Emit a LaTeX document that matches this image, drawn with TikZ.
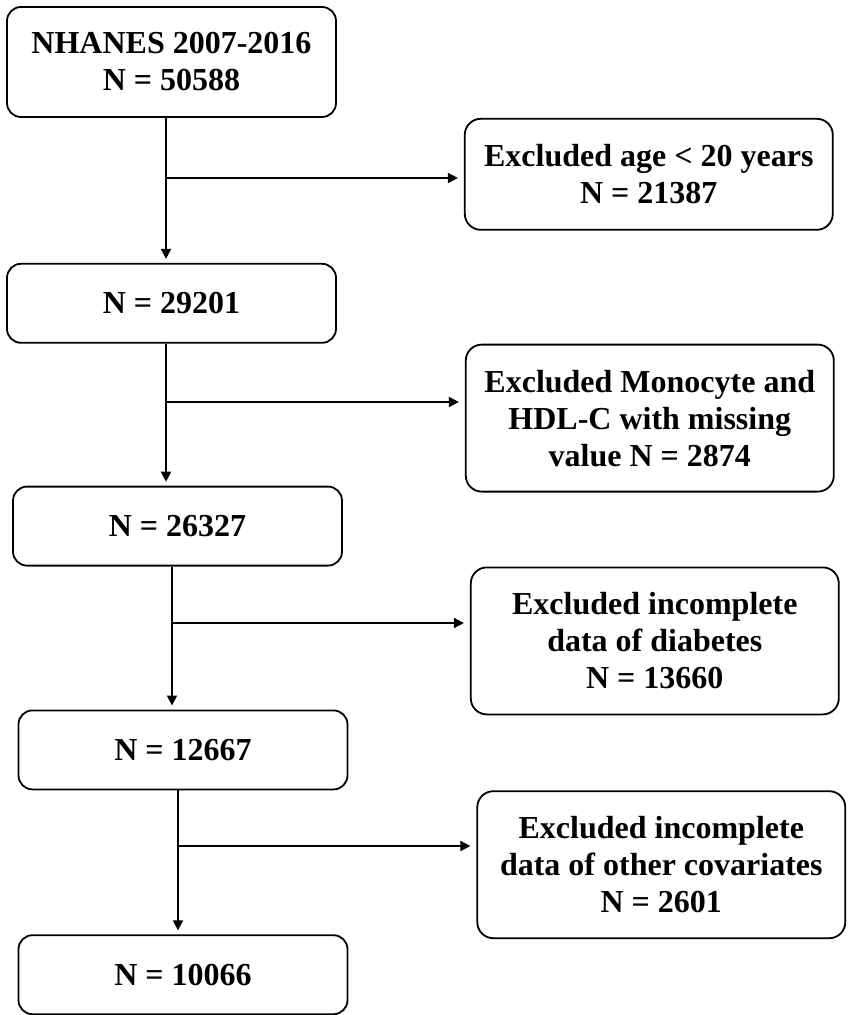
\documentclass[tikz,border=0pt]{standalone}
\usepackage{fontspec}
\setmainfont{Liberation Serif}
\usepackage{tikz}
\usetikzlibrary{arrows.meta, positioning}

\begin{document}
\begin{tikzpicture}[
  x=1pt, y=1pt,
  mainbox/.style={rectangle, rounded corners=14pt, draw=black, line width=1.8pt, align=center, minimum width=329pt, minimum height=79pt, inner sep=2pt, font=\fontsize{32}{37}\selectfont\bfseries},
  exclbox/.style={rectangle, rounded corners=16pt, draw=black, line width=1.8pt, align=center, minimum width=368pt, minimum height=147pt, inner sep=2pt, font=\fontsize{32}{37}\selectfont\bfseries},
  arrow/.style={-{Triangle[length=10pt, width=10pt]}, line width=1.8pt, black, shorten >=4pt}
]
  \useasboundingbox (0,0) rectangle (850,-1015);

  % Main flow
  \node[mainbox, minimum height=110pt] (b1) at (171.5,-62) {NHANES 2007-2016\\N = 50588};
  \node[mainbox, below=145pt of b1] (b2) {N = 29201};
  \node[mainbox, below=142pt of b2, xshift=6pt] (b3) {N = 26327};
  \node[mainbox, below=143pt of b3, xshift=5.5pt] (b4) {N = 12667};
  \node[mainbox, below=144pt of b4] (b5) {N = 10066};

  % Exclusions
  \node[exclbox, minimum height=111pt, right=127pt of b1.south east, anchor=north west] (r1) {Excluded age < 20 years\\N = 21387};
  \node[exclbox, right=128pt of b2.south east, anchor=north west] (r2) {Excluded Monocyte and\\HDL-C with missing\\value N = 2874};
  \node[exclbox, right=127pt of b3.south east, anchor=north west] (r3) {Excluded incomplete\\data of diabetes\\N = 13660};
  \node[exclbox, right=128pt of b4.south east, anchor=north west] (r4) {Excluded incomplete\\data of other covariates\\N = 2601};

  % Branch points
  \coordinate (j1) at (166,-178);
  \coordinate (j2) at (166,-402);
  \coordinate (j3) at (172,-623);
  \coordinate (j4) at (178,-846);

  % Arrows
  \draw[arrow] (j1 |- b1.south) -- (j1 |- b2.north);
  \draw[arrow] (j2 |- b2.south) -- (j2 |- b3.north);
  \draw[arrow] (j3 |- b3.south) -- (j3 |- b4.north);
  \draw[arrow] (j4 |- b4.south) -- (j4 |- b5.north);
  \draw[arrow, shorten >=6pt] (j1) -- (j1 -| r1.west);
  \draw[arrow, shorten >=6pt] (j2) -- (j2 -| r2.west);
  \draw[arrow, shorten >=6pt] (j3) -- (j3 -| r3.west);
  \draw[arrow, shorten >=6pt] (j4) -- (j4 -| r4.west);
\end{tikzpicture}
\end{document}
